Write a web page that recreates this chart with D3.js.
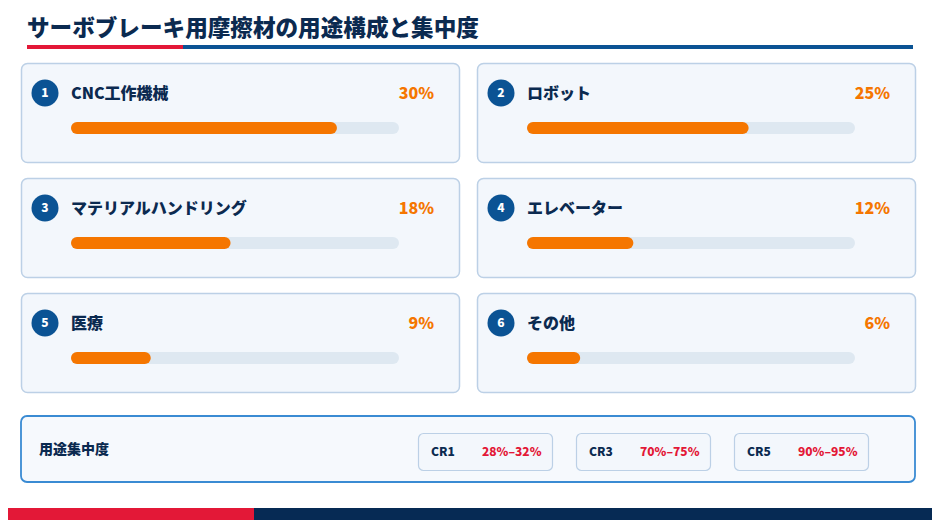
<!DOCTYPE html>
<html>
<head>
<meta charset="utf-8">
<script src="https://cdn.jsdelivr.net/npm/d3@7"></script>
<style>
  body { margin: 0; background: #ffffff; }
  svg { display: block; font-family: "Noto Sans CJK JP", "Noto Sans", sans-serif; }
</style>
</head>
<body>
<div id="chart"></div>
<script>
// data
var titleText = "サーボブレーキ用摩擦材の用途構成と集中度";
var categories = ["CNC工作機械", "ロボット", "マテリアルハンドリング", "エレベーター", "医療", "その他"];
var shares = [30, 25, 18, 12, 9, 6];
var summaryLabel = "用途集中度";
var crLabels = ["CR1", "CR3", "CR5"];
var crRanges = ["28%–32%", "70%–75%", "90%–95%"];

var width = 940, height = 529;
var navy = "#0b2a50", blue = "#0b5394", orange = "#f57600", red = "#e31837";

var svg = d3.select("#chart").append("svg")
    .attr("width", width)
    .attr("height", height);

// title
svg.append("text")
    .attr("x", 27)
    .attr("y", 28)
    .attr("dy", "0.35em")
    .style("font-size", "22.6px")
    .style("font-weight", 900)
    .style("fill", navy)
    .text(titleText);

svg.append("rect").attr("x", 27).attr("y", 45).attr("width", 156).attr("height", 4).attr("fill", red);
svg.append("rect").attr("x", 183).attr("y", 45).attr("width", 730).attr("height", 4).attr("fill", blue);

// card grid
var cardW = 438, cardH = 99;
var col = d3.scaleOrdinal().domain([0, 1]).range([21, 477]);
var row = d3.scaleOrdinal().domain([0, 1, 2]).range([63, 178, 293]);

// bar length scale (track is 328px)
var x = d3.scaleLinear().domain([0, 37]).range([0, 328]);

var cards = svg.selectAll("g.card")
    .data(categories.map(function (c, i) { return { name: c, value: shares[i], i: i }; }))
    .enter()
    .append("g")
    .attr("class", "card")
    .attr("transform", function (d) {
        return "translate(" + col(d.i % 2) + "," + row(Math.floor(d.i / 2)) + ")";
    });

cards.append("rect")
    .attr("x", 0.5).attr("y", 0.5)
    .attr("width", cardW).attr("height", cardH)
    .attr("rx", 6)
    .attr("fill", "#f3f7fc")
    .attr("stroke", "#bcd0e6")
    .attr("stroke-width", 1.5);

cards.append("circle")
    .attr("cx", 24).attr("cy", 30)
    .attr("r", 13.5)
    .attr("fill", blue);

cards.append("text")
    .attr("x", 24).attr("y", 30)
    .attr("dy", "0.36em")
    .attr("text-anchor", "middle")
    .style("font-size", "12px")
    .style("font-weight", 900)
    .style("fill", "#ffffff")
    .text(function (d) { return d.i + 1; });

cards.append("text")
    .attr("x", 50).attr("y", 30)
    .attr("dy", "0.35em")
    .style("font-size", "16px")
    .style("font-weight", 900)
    .style("fill", navy)
    .text(function (d) { return d.name; });

cards.append("text")
    .attr("x", 413).attr("y", 30)
    .attr("dy", "0.35em")
    .attr("text-anchor", "end")
    .style("font-size", "16px")
    .style("font-weight", 900)
    .style("fill", orange)
    .text(function (d) { return d.value + "%"; });

cards.append("rect")
    .attr("x", 50).attr("y", 59)
    .attr("width", x.range()[1]).attr("height", 12)
    .attr("rx", 6)
    .attr("fill", "#dee8f1");

cards.append("rect")
    .attr("x", 50).attr("y", 59)
    .attr("width", function (d) { return x(d.value); }).attr("height", 12)
    .attr("rx", 6)
    .attr("fill", orange);

// concentration summary
var summary = svg.append("g").attr("transform", "translate(21,416)");
summary.append("rect")
    .attr("x", 0).attr("y", 0)
    .attr("width", 894).attr("height", 66)
    .attr("rx", 6)
    .attr("fill", "#f6f9fd")
    .attr("stroke", "#3a8bd3")
    .attr("stroke-width", 1.8);

summary.append("text")
    .attr("x", 18).attr("y", 33)
    .attr("dy", "0.35em")
    .style("font-size", "14px")
    .style("font-weight", 900)
    .style("fill", navy)
    .text(summaryLabel);

var crX = d3.scalePoint().domain(crLabels).range([397, 713]);

var crs = summary.selectAll("g.cr")
    .data(crLabels.map(function (c, i) { return { label: c, range: crRanges[i] }; }))
    .enter()
    .append("g")
    .attr("class", "cr")
    .attr("transform", function (d) { return "translate(" + crX(d.label) + ",17)"; });

crs.append("rect")
    .attr("x", 0.5).attr("y", 0.5)
    .attr("width", 134).attr("height", 37)
    .attr("rx", 5)
    .attr("fill", "#f3f7fc")
    .attr("stroke", "#bcd0e6")
    .attr("stroke-width", 1.2);

crs.append("text")
    .attr("x", 13).attr("y", 19)
    .attr("dy", "0.35em")
    .style("font-size", "12px")
    .style("font-weight", 900)
    .style("fill", navy)
    .text(function (d) { return d.label; });

crs.append("text")
    .attr("x", 64).attr("y", 19)
    .attr("dy", "0.35em")
    .style("font-size", "12px")
    .style("font-weight", 900)
    .style("fill", red)
    .text(function (d) { return d.range; });

// footer
svg.append("rect").attr("x", 8).attr("y", 508).attr("width", 246).attr("height", 12).attr("fill", red);
svg.append("rect").attr("x", 254).attr("y", 508).attr("width", 678).attr("height", 12).attr("fill", "#062a54");
</script>
</body>
</html>
